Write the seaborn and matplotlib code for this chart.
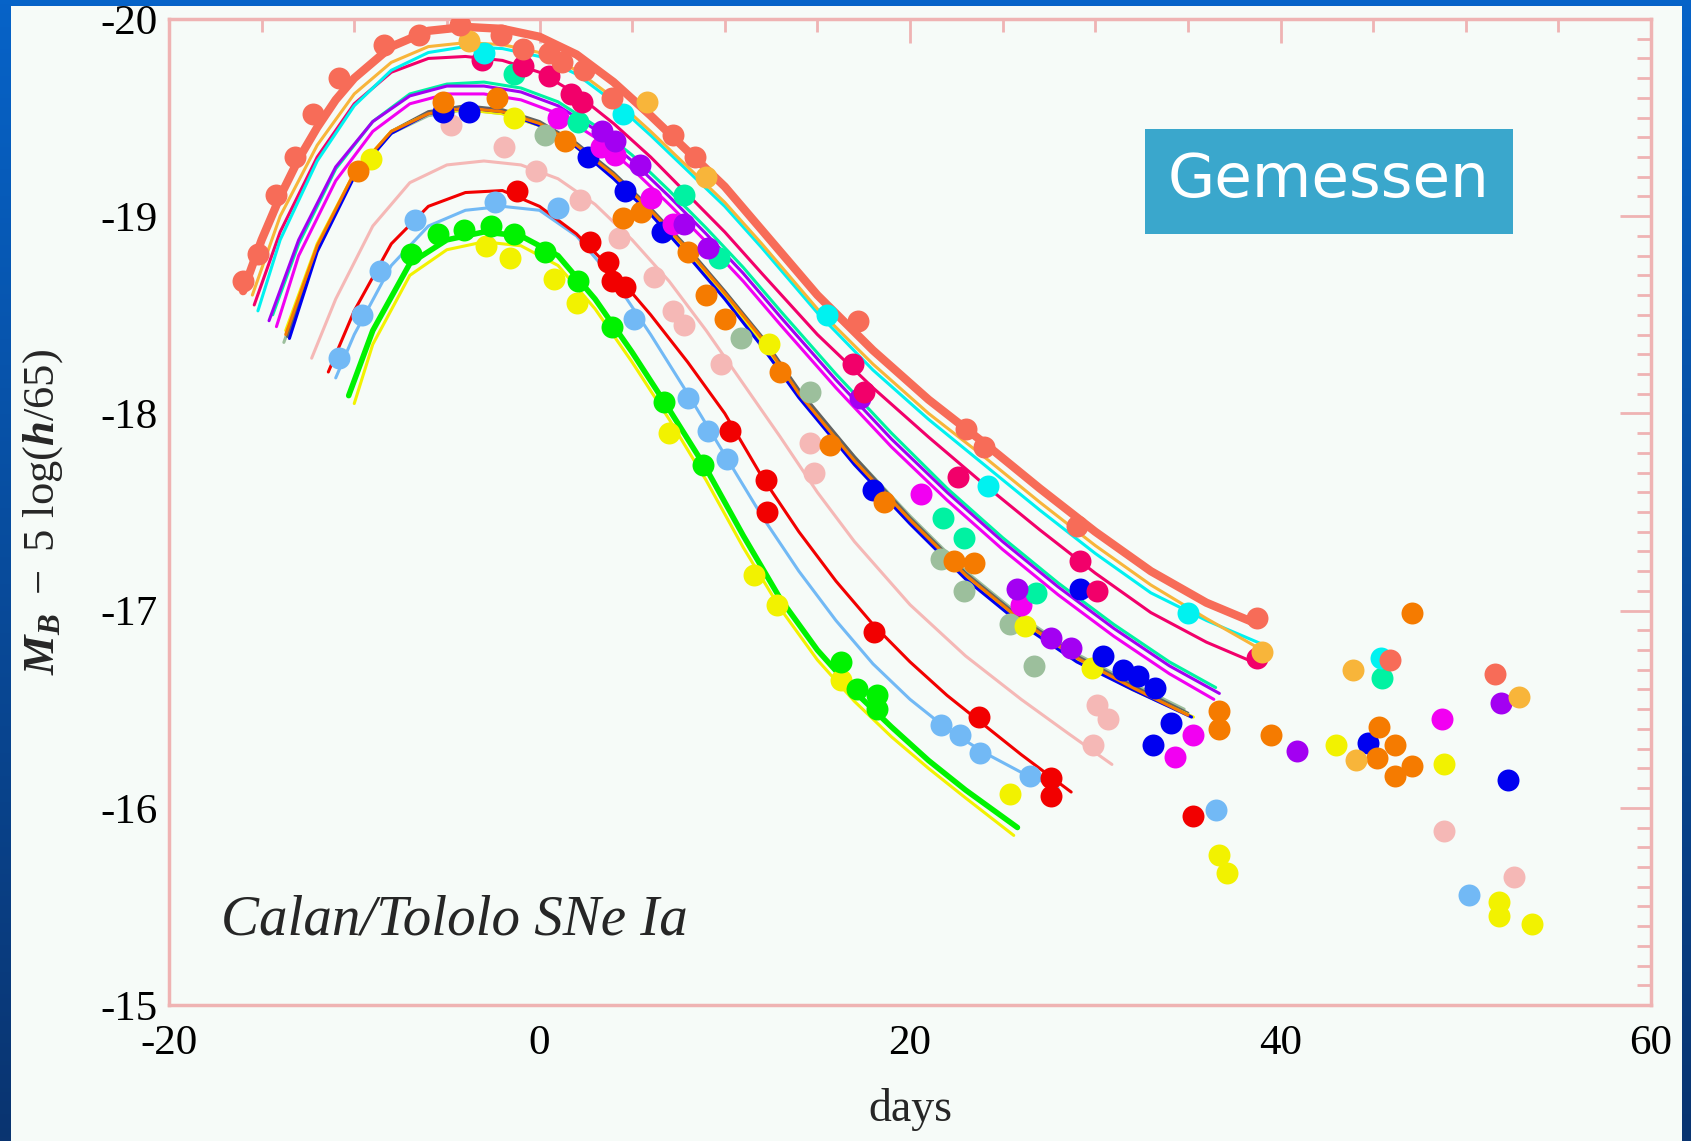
import numpy as np
import pandas as pd
import matplotlib
matplotlib.use('Agg')
import matplotlib.pyplot as plt
import seaborn as sns
from matplotlib.patches import Rectangle
from matplotlib.colors import LinearSegmentedColormap
from matplotlib.ticker import MultipleLocator

# ---- fitted light curves (day, M_B) ----
salmon_fit_day = [-16, -15, -14, -13, -12, -11, -10, -8, -6, -4, -2, 0, 2, 4, 6, 8, 10, 12, 15, 18, 21, 24, 27, 30, 33, 36, 38.8]
salmon_fit_mag = [-18.62, -18.88, -19.10, -19.29, -19.45, -19.59, -19.70, -19.86, -19.94, -19.96, -19.95, -19.91,
                  -19.82, -19.68, -19.51, -19.33, -19.15, -18.93, -18.60, -18.32, -18.07, -17.85, -17.62, -17.40,
                  -17.20, -17.04, -16.93]
ltorange_fit_day = [-15.5, -14, -12, -10, -8, -6, -4, -2, 0, 2, 4, 6, 8, 10, 12, 15, 18, 21, 24, 27, 30, 33, 36, 39]
ltorange_fit_mag = [-18.60, -19.00, -19.36, -19.62, -19.78, -19.86, -19.88, -19.87, -19.83, -19.74, -19.60, -19.43,
                    -19.25, -19.07, -18.86, -18.53, -18.25, -18.00, -17.78, -17.55, -17.33, -17.13, -16.96, -16.80]
cyan_fit_day = [-15.2, -14, -12, -10, -8, -6, -4, -2, 0, 2, 4, 6, 8, 10, 12, 15, 18, 21, 24, 27, 30, 33, 36, 39]
cyan_fit_mag = [-18.52, -18.88, -19.28, -19.56, -19.74, -19.83, -19.86, -19.85, -19.81, -19.72, -19.58, -19.41,
                -19.23, -19.05, -18.84, -18.51, -18.22, -17.97, -17.74, -17.51, -17.29, -17.09, -16.95, -16.83]
crimson_fit_day = [-15.4, -14, -12, -10, -8, -6, -4, -2, 0, 2, 4, 6, 8, 10, 12, 15, 18, 21, 24, 27, 30, 33, 36, 39]
crimson_fit_mag = [-18.55, -18.92, -19.30, -19.57, -19.73, -19.80, -19.81, -19.79, -19.73, -19.62, -19.47, -19.30,
                   -19.11, -18.92, -18.71, -18.40, -18.13, -17.88, -17.64, -17.41, -17.19, -16.99, -16.84, -16.72]
purple_fit_day = [-14.6, -13, -11, -9, -7, -5, -3, -1, 1, 3, 5, 7, 9, 11, 13, 16, 19, 22, 25, 28, 31, 34, 36.7]
purple_fit_mag = [-18.47, -18.88, -19.25, -19.48, -19.61, -19.66, -19.66, -19.63, -19.56, -19.44, -19.28, -19.10,
                  -18.91, -18.71, -18.49, -18.17, -17.87, -17.60, -17.35, -17.12, -16.91, -16.72, -16.58]
spring_fit_day = [-14.4, -13, -11, -9, -7, -5, -3, -1, 1, 3, 5, 7, 9, 11, 13, 16, 19, 22, 25, 28, 31, 34, 36.5]
spring_fit_mag = [-18.50, -18.86, -19.24, -19.48, -19.62, -19.67, -19.68, -19.65, -19.58, -19.46, -19.31, -19.13,
                  -18.94, -18.74, -18.52, -18.20, -17.90, -17.62, -17.37, -17.14, -16.93, -16.74, -16.61]
magenta_fit_day = [-14.2, -13, -11, -9, -7, -5, -3, -1, 1, 3, 5, 7, 9, 11, 13, 16, 19, 22, 25, 28, 31, 34, 36.4]
magenta_fit_mag = [-18.44, -18.80, -19.18, -19.43, -19.57, -19.62, -19.62, -19.59, -19.52, -19.40, -19.24, -19.06,
                   -18.87, -18.67, -18.45, -18.13, -17.83, -17.56, -17.31, -17.08, -16.87, -16.68, -16.55]
orange_fit_day = [-13.7, -12, -10, -8, -6, -4, -2, 0, 2, 4, 6, 8, 10, 12, 14, 17, 20, 23, 26, 29, 32, 35]
orange_fit_mag = [-18.40, -18.85, -19.22, -19.43, -19.52, -19.55, -19.53, -19.47, -19.36, -19.21, -19.03, -18.83,
                  -18.61, -18.38, -18.10, -17.76, -17.46, -17.18, -16.95, -16.76, -16.61, -16.47]
blue_fit_day = [-13.5, -12, -10, -8, -6, -4, -2, 0, 2, 4, 6, 8, 10, 12, 14, 17, 20, 23, 26, 29, 32, 35.2]
blue_fit_mag = [-18.38, -18.82, -19.20, -19.42, -19.52, -19.55, -19.53, -19.46, -19.35, -19.19, -19.01, -18.80,
                -18.58, -18.34, -18.08, -17.74, -17.44, -17.16, -16.93, -16.74, -16.60, -16.46]
sage_fit_day = [-13.8, -12, -10, -8, -6, -4, -2, 0, 2, 4, 6, 8, 10, 12, 14, 17, 20, 23, 26, 29, 32, 34.8]
sage_fit_mag = [-18.36, -18.83, -19.21, -19.42, -19.51, -19.54, -19.52, -19.46, -19.35, -19.20, -19.02, -18.82,
                -18.60, -18.37, -18.11, -17.78, -17.48, -17.20, -16.97, -16.78, -16.63, -16.50]
gray_fit_day = [-13.6, -12, -10, -8, -6, -4, -2, 0, 2, 4, 6, 8, 10, 12, 14, 17, 20, 23, 26, 29, 32, 35]
gray_fit_mag = [-18.39, -18.84, -19.21, -19.43, -19.53, -19.56, -19.54, -19.48, -19.37, -19.22, -19.04, -18.84,
                -18.62, -18.39, -18.12, -17.78, -17.47, -17.19, -16.96, -16.77, -16.62, -16.48]
yellow_fit_day = [-13.7, -12, -10, -8, -6, -4, -2, 0, 2, 4, 6, 8, 10, 12, 14, 17, 20, 23, 26, 29, 32, 35.3]
yellow_fit_mag = [-18.42, -18.86, -19.22, -19.43, -19.52, -19.54, -19.52, -19.46, -19.35, -19.20, -19.02, -18.82,
                  -18.60, -18.36, -18.09, -17.75, -17.45, -17.17, -16.94, -16.75, -16.60, -16.46]
ltpink_fit_day = [-12.3, -11, -9, -7, -5, -3, -1, 1, 3, 5, 7, 9, 11, 13, 15, 17, 20, 23, 26, 28.5, 30.9]
ltpink_fit_mag = [-18.28, -18.58, -18.95, -19.17, -19.26, -19.28, -19.26, -19.19, -19.06, -18.88, -18.67, -18.42,
                  -18.15, -17.88, -17.60, -17.35, -17.03, -16.77, -16.55, -16.38, -16.22]
red_fit_day = [-11.4, -10, -8, -6, -4, -2, 0, 2, 4, 6, 8, 10, 12, 14, 16, 18, 20, 22, 24, 26, 28.7]
red_fit_mag = [-18.21, -18.52, -18.86, -19.05, -19.12, -19.13, -19.05, -18.91, -18.72, -18.50, -18.26, -18.00,
               -17.68, -17.40, -17.15, -16.93, -16.74, -16.57, -16.42, -16.27, -16.08]
ltblue_fit_day = [-11.0, -10, -8, -6, -4, -2, 0, 2, 4, 6, 8, 10, 12, 14, 16, 18, 20, 22, 24, 26, 28.0]
ltblue_fit_mag = [-18.18, -18.40, -18.75, -18.95, -19.03, -19.05, -19.03, -18.90, -18.68, -18.40, -18.10, -17.79,
                  -17.48, -17.20, -16.95, -16.73, -16.55, -16.40, -16.28, -16.18, -16.10]
green_fit_day = [-10.3, -9, -7, -5, -3, -1, 1, 3, 5, 7, 9, 11, 13, 15, 17, 19, 21, 23, 25.8]
green_fit_mag = [-18.09, -18.42, -18.76, -18.88, -18.92, -18.90, -18.80, -18.58, -18.31, -18.02, -17.72, -17.38,
                 -17.06, -16.80, -16.59, -16.41, -16.24, -16.09, -15.90]
lemon_fit_day = [-10.0, -9, -7, -5, -3, -1, 1, 3, 5, 7, 9, 11, 13, 15, 17, 19, 21, 23, 25.6]
lemon_fit_mag = [-18.05, -18.35, -18.70, -18.83, -18.87, -18.85, -18.75, -18.53, -18.26, -17.97, -17.66, -17.32,
                 -17.01, -16.75, -16.54, -16.36, -16.20, -16.05, -15.86]

# ---- measured points ----
salmon_obs_day = [-16.0, -15.2, -14.2, -13.2, -12.2, -10.8, -8.4, -6.5, -4.3, -2.1, -0.9, 0.5, 1.2, 2.4, 3.9,
                  7.2, 8.4, 17.2, 23.0, 24.0, 29.0, 38.75, 45.9, 51.6]
salmon_obs_mag = [-18.67, -18.81, -19.11, -19.30, -19.52, -19.70, -19.87, -19.92, -19.97, -19.92, -19.85, -19.83,
                  -19.78, -19.74, -19.60, -19.41, -19.30, -18.47, -17.92, -17.83, -17.43, -16.96, -16.75, -16.68]
ltorange_obs_day = [-3.8, 5.8, 9.0, 39.0, 43.9, 44.1, 52.9]
ltorange_obs_mag = [-19.89, -19.58, -19.20, -16.79, -16.70, -16.24, -16.56]
cyan_obs_day = [-3.0, 4.5, 15.5, 24.2, 35.0, 45.4]
cyan_obs_mag = [-19.83, -19.52, -18.50, -17.63, -16.99, -16.76]
crimson_obs_day = [-3.1, -0.9, 0.5, 1.7, 2.3, 16.9, 17.5, 22.6, 29.2, 30.1, 38.75]
crimson_obs_mag = [-19.79, -19.76, -19.71, -19.62, -19.58, -18.25, -18.11, -17.68, -17.25, -17.10, -16.76]
purple_obs_day = [3.4, 4.1, 5.4, 7.8, 9.1, 17.3, 25.8, 27.6, 28.7, 40.9, 51.9]
purple_obs_mag = [-19.43, -19.38, -19.26, -18.96, -18.84, -18.08, -17.11, -16.86, -16.81, -16.29, -16.53]
spring_obs_day = [-1.4, 2.1, 7.8, 9.7, 21.8, 22.9, 26.8, 45.5]
spring_obs_mag = [-19.72, -19.48, -19.11, -18.79, -17.47, -17.37, -17.09, -16.66]
magenta_obs_day = [1.0, 3.3, 4.1, 6.0, 7.2, 20.6, 26.0, 34.3, 35.3, 48.7]
magenta_obs_mag = [-19.50, -19.35, -19.31, -19.09, -18.96, -17.59, -17.03, -16.26, -16.37, -16.45]
orange_obs_day = [-9.8, -5.2, -2.3, 1.4, 4.5, 5.5, 8.0, 9.0, 10.0, 13.0, 15.7, 18.6, 22.4, 23.45,
                  36.7, 36.7, 39.5, 45.2, 45.3, 46.2, 46.2, 47.1, 47.1]
orange_obs_mag = [-19.23, -19.58, -19.60, -19.38, -18.99, -19.02, -18.82, -18.60, -18.48, -18.21, -17.84, -17.55,
                  -17.25, -17.24, -16.49, -16.40, -16.37, -16.25, -16.41, -16.32, -16.16, -16.21, -16.99]
blue_obs_day = [-5.2, -3.8, 2.6, 4.6, 6.6, 18.0, 29.2, 30.4, 31.5, 32.3, 33.2, 34.1, 33.1, 44.7, 52.3]
blue_obs_mag = [-19.53, -19.53, -19.30, -19.13, -18.92, -17.61, -17.11, -16.77, -16.70, -16.67, -16.61, -16.43,
                -16.32, -16.33, -16.14]
sage_obs_day = [0.3, 10.9, 14.6, 21.7, 22.9, 25.4, 26.7]
sage_obs_mag = [-19.41, -18.38, -18.11, -17.26, -17.10, -16.93, -16.72]
yellow_obs_day = [-9.1, -1.4, 12.4, 26.2, 29.85, 43.0, 48.8, 36.7, 37.1, 51.8, 51.8, 53.6]
yellow_obs_mag = [-19.29, -19.50, -18.35, -16.92, -16.71, -16.32, -16.22, -15.76, -15.67, -15.52, -15.45, -15.41]
ltpink_obs_day = [-4.8, -1.9, -0.2, 2.2, 4.3, 6.2, 7.2, 7.8, 9.8, 14.6, 14.8, 30.1, 30.7, 29.9, 48.8, 52.6]
ltpink_obs_mag = [-19.46, -19.35, -19.23, -19.08, -18.89, -18.69, -18.52, -18.45, -18.25, -17.85, -17.70, -16.52,
                  -16.45, -16.32, -15.88, -15.65]
red_obs_day = [-1.2, 2.7, 3.7, 3.9, 4.6, 10.3, 12.2, 12.3, 18.05, 23.7, 27.6, 27.6, 35.3]
red_obs_mag = [-19.13, -18.87, -18.77, -18.67, -18.64, -17.91, -17.66, -17.50, -16.89, -16.46, -16.15, -16.06, -15.96]
ltblue_obs_day = [-10.8, -9.6, -8.6, -6.7, -2.4, 1.0, 5.1, 8.0, 9.1, 10.1, 21.65, 22.7, 23.8, 26.5, 36.5, 50.2]
ltblue_obs_mag = [-18.28, -18.50, -18.72, -18.98, -19.07, -19.04, -18.48, -18.08, -17.91, -17.77, -16.42, -16.37,
                  -16.28, -16.16, -15.99, -15.56]
green_obs_day = [-6.95, -5.5, -4.1, -2.6, -1.4, 0.3, 2.1, 3.9, 6.7, 8.8, 16.25, 17.15, 18.2, 18.2]
green_obs_mag = [-18.81, -18.91, -18.93, -18.95, -18.91, -18.82, -18.67, -18.44, -18.06, -17.74, -16.74, -16.60,
                 -16.57, -16.50]
lemon_obs_day = [-2.9, -1.6, 0.8, 2.0, 7.0, 11.6, 12.8, 16.25, 25.4]
lemon_obs_mag = [-18.85, -18.79, -18.68, -18.56, -17.90, -17.18, -17.03, -16.65, -16.07]

x_ticks = [-20, 0, 20, 40, 60]
y_ticks = [-20, -19, -18, -17, -16, -15]

fits = {
    'ltpink': (ltpink_fit_day, ltpink_fit_mag), 'lemon': (lemon_fit_day, lemon_fit_mag),
    'green': (green_fit_day, green_fit_mag), 'ltblue': (ltblue_fit_day, ltblue_fit_mag),
    'red': (red_fit_day, red_fit_mag), 'sage': (sage_fit_day, sage_fit_mag),
    'gray': (gray_fit_day, gray_fit_mag), 'yellow': (yellow_fit_day, yellow_fit_mag),
    'blue': (blue_fit_day, blue_fit_mag), 'orange': (orange_fit_day, orange_fit_mag),
    'magenta': (magenta_fit_day, magenta_fit_mag), 'spring': (spring_fit_day, spring_fit_mag),
    'purple': (purple_fit_day, purple_fit_mag), 'crimson': (crimson_fit_day, crimson_fit_mag),
    'cyan': (cyan_fit_day, cyan_fit_mag), 'ltorange': (ltorange_fit_day, ltorange_fit_mag),
    'salmon': (salmon_fit_day, salmon_fit_mag),
}
obs = {
    'ltpink': (ltpink_obs_day, ltpink_obs_mag), 'lemon': (lemon_obs_day, lemon_obs_mag),
    'green': (green_obs_day, green_obs_mag), 'ltblue': (ltblue_obs_day, ltblue_obs_mag),
    'red': (red_obs_day, red_obs_mag), 'sage': (sage_obs_day, sage_obs_mag),
    'yellow': (yellow_obs_day, yellow_obs_mag), 'blue': (blue_obs_day, blue_obs_mag),
    'orange': (orange_obs_day, orange_obs_mag), 'magenta': (magenta_obs_day, magenta_obs_mag),
    'spring': (spring_obs_day, spring_obs_mag), 'purple': (purple_obs_day, purple_obs_mag),
    'crimson': (crimson_obs_day, crimson_obs_mag), 'cyan': (cyan_obs_day, cyan_obs_mag),
    'ltorange': (ltorange_obs_day, ltorange_obs_mag), 'salmon': (salmon_obs_day, salmon_obs_mag),
}

colors = {
    'salmon': '#f76c58', 'ltorange': '#f8b53a', 'cyan': '#00f2f0', 'crimson': '#f2006a',
    'purple': '#a300f2', 'spring': '#00f2a2', 'magenta': '#f200f2', 'orange': '#f57b00',
    'blue': '#0000f0', 'sage': '#9cbf9c', 'gray': '#626262', 'yellow': '#f2f200',
    'ltpink': '#f5b8b6', 'red': '#f20000', 'ltblue': '#72b9f5', 'green': '#00f200', 'lemon': '#f2f200',
}
widths = {'salmon': 6.0, 'green': 4.0}

fit_df = pd.concat([pd.DataFrame({'sn': k, 'day': v[0], 'mag': v[1]}) for k, v in fits.items()])
obs_df = pd.concat([pd.DataFrame({'sn': k, 'day': v[0], 'mag': v[1]}) for k, v in obs.items()])

sns.set_style('white')
plt.rcParams['font.family'] = ['Liberation Serif', 'DejaVu Serif']
plt.rcParams['mathtext.fontset'] = 'custom'
plt.rcParams['mathtext.rm'] = 'Liberation Serif'
plt.rcParams['mathtext.it'] = 'Liberation Serif:italic:bold'
plt.rcParams['mathtext.bf'] = 'Liberation Serif:bold'
plt.rcParams['axes.unicode_minus'] = False

W, H = 1691, 1141
fig = plt.figure(figsize=(W / 100, H / 100), dpi=100)

# slide background
bg = fig.add_axes([0, 0, 1, 1], zorder=-10)
grad = np.linspace(0, 1, 256).reshape(-1, 1)
bg.imshow(grad, aspect='auto', extent=[0, 1, 0, 1],
          cmap=LinearSegmentedColormap.from_list('slide', ['#0663c8', '#0a3470']))
bg.axis('off')
fig.add_artist(Rectangle((11 / W, 0), (1682 - 11) / W, 1 - 6 / H, transform=fig.transFigure,
                         facecolor='#f6fbf8', edgecolor='none', zorder=-5))

ax = fig.add_axes([169 / W, 1 - 1005 / H, (1651 - 169) / W, (1005 - 19) / H])
ax.set_facecolor('#f6fbf8')

for sn, grp in fit_df.groupby('sn', sort=False):
    sns.lineplot(data=grp, x='day', y='mag', ax=ax, sort=False, estimator=None,
                 color=colors[sn], lw=widths.get(sn, 2.2), zorder=2)
for sn, grp in obs_df.groupby('sn', sort=False):
    sns.scatterplot(data=grp, x='day', y='mag', ax=ax, color=colors[sn], s=250,
                    linewidth=0, zorder=3)

ax.set_xlim(-20, 60)
ax.set_ylim(-15, -20)
ax.set_xticks(x_ticks)
ax.set_yticks(y_ticks)
ax.xaxis.set_minor_locator(MultipleLocator(5))
ax.yaxis.set_minor_locator(MultipleLocator(0.1))
frame = '#efb3b3'
for s in ax.spines.values():
    s.set_color(frame)
    s.set_linewidth(2.5)
ax.tick_params(axis='both', which='both', direction='in', color=frame, width=2,
               top=True, right=True, labelsize=31, labelcolor='black')
ax.tick_params(axis='x', which='major', length=17, pad=14)
ax.tick_params(axis='x', which='minor', length=9)
ax.tick_params(axis='y', which='major', length=22, pad=8)
ax.tick_params(axis='y', which='minor', length=10)

ax.set_xlabel('days', fontsize=33, labelpad=18)
ax.set_ylabel(r'$M_B\ -\ 5\ \mathrm{log}(h/65)$', fontsize=32, labelpad=26)

ax.text(-17.2, -15.36, 'Calan/Tololo SNe Ia', fontsize=41, style='italic', va='baseline', ha='left')

# "Gemessen" label box
fig.add_artist(Rectangle((1145 / W, 1 - 234 / H), 368 / W, 105 / H, transform=fig.transFigure,
                         facecolor='#3aa7cc', edgecolor='none', zorder=5))
fig.text(1329 / W, 1 - 181 / H, 'Gemessen', fontsize=44, color='white', family='DejaVu Sans',
         ha='center', va='center', zorder=6)

fig.savefig('out.png', dpi=100)
